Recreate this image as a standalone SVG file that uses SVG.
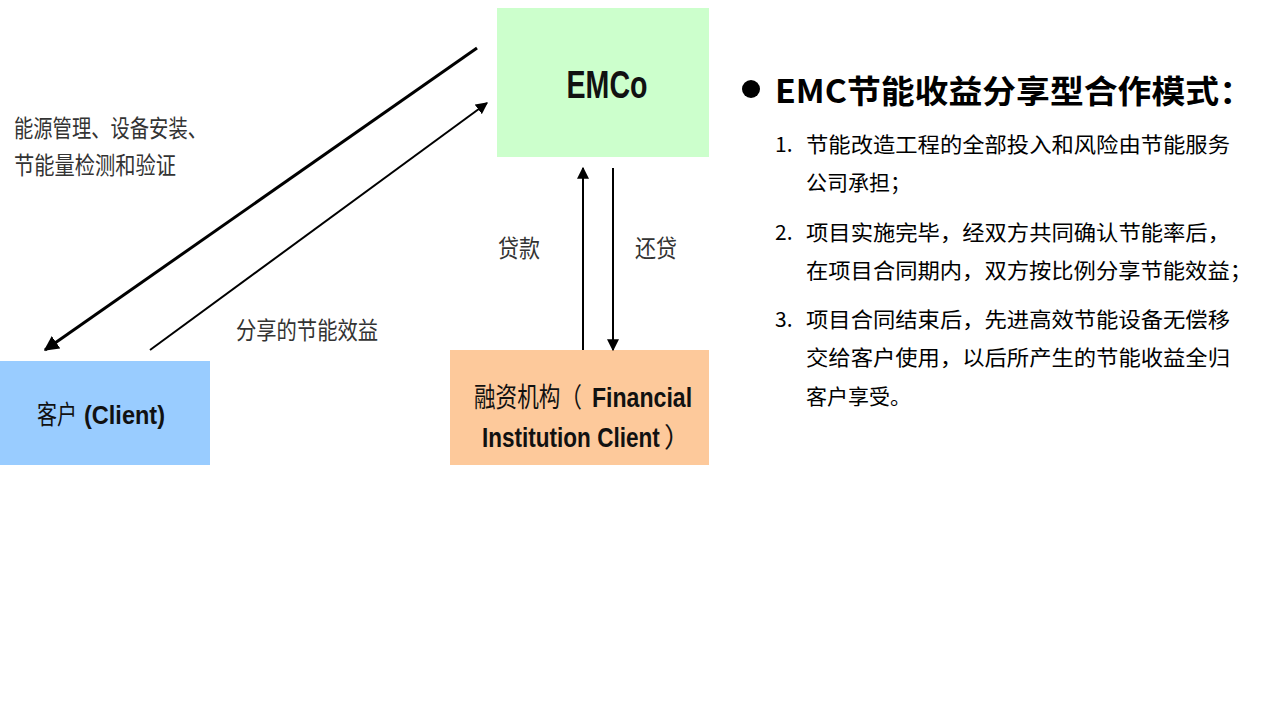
<svg xmlns="http://www.w3.org/2000/svg" width="1280" height="720" viewBox="0 0 1280 720">
<defs>
<style>
.lbl{font-family:"Noto Sans CJK SC","Liberation Sans",sans-serif;fill:#333;}
.box{font-family:"Liberation Sans","Noto Sans CJK SC",sans-serif;font-weight:bold;fill:#111;}
.cjk{font-family:"Noto Sans CJK SC",sans-serif;font-weight:normal;fill:#111;}
.txt{font-family:"Noto Sans CJK SC","Liberation Sans",sans-serif;fill:#000;font-size:21px;}
.ln{stroke:#000;fill:none;}
</style>
<marker id="ah" viewBox="0 0 10 10" refX="9" refY="5" markerWidth="5" markerHeight="5" orient="auto" markerUnits="strokeWidth">
<path d="M0,0 L10,5 L0,10 z" fill="#000"/>
</marker>
<marker id="ah2" viewBox="0 0 10 10" refX="9" refY="5" markerWidth="6" markerHeight="6" orient="auto" markerUnits="strokeWidth">
<path d="M0,0 L10,5 L0,10 z" fill="#000"/>
</marker>
</defs>
<rect width="1280" height="720" fill="#fff"/>

<g id="emco">
<rect x="497" y="8" width="212" height="149" fill="#ccffcc"/>
<text class="box" x="607" y="98" font-size="38" text-anchor="middle" textLength="81" lengthAdjust="spacingAndGlyphs">EMCo</text>
</g>

<g id="client">
<rect x="0" y="361" width="210" height="104" fill="#99ccff"/>
<text class="cjk" x="37" y="424" font-size="26" textLength="40" lengthAdjust="spacingAndGlyphs">客户</text>
<text class="box" x="84" y="424" font-size="26" textLength="81" lengthAdjust="spacingAndGlyphs">(Client)</text>
</g>

<g id="financial">
<rect x="450" y="350" width="259" height="115" fill="#fdc99b"/>
<text class="cjk" transform="translate(474,407) scale(0.8,1)" font-size="27">融资机构（</text>
<text class="box" transform="translate(592,407) scale(0.825,1)" font-size="28">Financial</text>
<text class="box" transform="translate(482,447) scale(0.805,1)" font-size="28">Institution Client</text>
<text class="cjk" x="664" y="447" font-size="27">）</text>
</g>

<g id="connectors">
<line class="ln" x1="477" y1="48" x2="45" y2="350" stroke-width="3" marker-end="url(#ah)"/>
<line class="ln" x1="150" y1="350" x2="487" y2="103" stroke-width="2" marker-end="url(#ah2)"/>
<line class="ln" x1="583" y1="350" x2="583" y2="168" stroke-width="2" marker-end="url(#ah2)"/>
<line class="ln" x1="613" y1="168" x2="613" y2="350" stroke-width="2" marker-end="url(#ah2)"/>
</g>

<g id="labels">
<text class="lbl" x="14" y="137" font-size="24" textLength="193" lengthAdjust="spacingAndGlyphs">能源管理、设备安装、</text>
<text class="lbl" x="14" y="174" font-size="24" textLength="162" lengthAdjust="spacingAndGlyphs">节能量检测和验证</text>
<text class="lbl" x="236" y="339" font-size="24" textLength="142" lengthAdjust="spacingAndGlyphs">分享的节能效益</text>
<text class="lbl" x="498" y="257" font-size="24" textLength="42" lengthAdjust="spacingAndGlyphs">贷款</text>
<text class="lbl" x="635" y="257" font-size="24" textLength="42" lengthAdjust="spacingAndGlyphs">还贷</text>
</g>

<g id="description">
<circle cx="751" cy="89" r="9" fill="#000"/>
<text x="775" y="103" font-family="'Noto Sans CJK SC','Liberation Sans',sans-serif" font-weight="bold" font-size="32" textLength="478" lengthAdjust="spacingAndGlyphs">EMC节能收益分享型合作模式：</text>
<text class="txt" x="775" y="152">1.</text>
<text class="txt" x="806" y="152" textLength="424" lengthAdjust="spacingAndGlyphs">节能改造工程的全部投入和风险由节能服务</text>
<text class="txt" x="806" y="190">公司承担；</text>
<text class="txt" x="775" y="240">2.</text>
<text class="txt" x="806" y="240" textLength="424" lengthAdjust="spacingAndGlyphs">项目实施完毕，经双方共同确认节能率后，</text>
<text class="txt" x="806" y="278" textLength="446" lengthAdjust="spacingAndGlyphs">在项目合同期内，双方按比例分享节能效益；</text>
<text class="txt" x="775" y="327">3.</text>
<text class="txt" x="806" y="327" textLength="424" lengthAdjust="spacingAndGlyphs">项目合同结束后，先进高效节能设备无偿移</text>
<text class="txt" x="806" y="365" textLength="424" lengthAdjust="spacingAndGlyphs">交给客户使用，以后所产生的节能收益全归</text>
<text class="txt" x="806" y="404">客户享受。</text>
</g>
</svg>
